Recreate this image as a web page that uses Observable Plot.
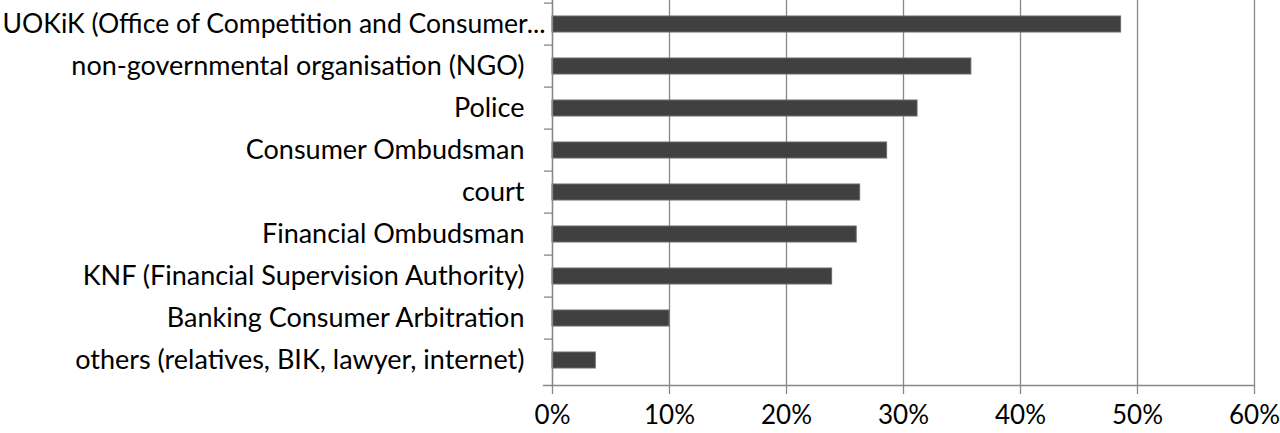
<!DOCTYPE html>
<html>
<head>
<meta charset="utf-8">
<script src="https://cdn.jsdelivr.net/npm/d3@7"></script>
<script src="https://cdn.jsdelivr.net/npm/@observablehq/plot@0.6"></script>
<style>
  html, body { margin: 0; padding: 0; background: #fff; overflow: hidden; }
  #chart svg { display: block; }
</style>
</head>
<body>
<div id="chart"></div>
<script>
const categories = [
  "UOKiK (Office of Competition and Consumer...",
  "non-governmental organisation (NGO)",
  "Police",
  "Consumer Ombudsman",
  "court",
  "Financial Ombudsman",
  "KNF (Financial Supervision Authority)",
  "Banking Consumer Arbitration",
  "others (relatives, BIK, lawyer, internet)"
];
const values = [0.486, 0.358, 0.312, 0.286, 0.263, 0.260, 0.239, 0.100, 0.037];
const xTicks = [0, 0.1, 0.2, 0.3, 0.4, 0.5, 0.6];
const xTickLabels = ["0%", "10%", "20%", "30%", "40%", "50%", "60%"];

const data = categories.map((c, i) => ({category: c, value: values[i]}));

const W = 1280, H = 433, mL = 552, mR = 26, mT = 0, mB = 48;
const step = (H - mT - mB) / categories.length;
const axisGray = "#888888";

const chart = Plot.plot({
  width: W,
  height: H,
  marginLeft: mL,
  marginRight: mR,
  marginTop: mT,
  marginBottom: mB,
  style: {fontFamily: "Lato, 'Open Sans', sans-serif", fontSize: "27px", color: "#000", background: "#fff", overflow: "visible"},
  x: {domain: [0, 0.6], ticks: xTicks, tickFormat: d => xTickLabels[xTicks.indexOf(d)] ?? "", label: null},
  y: {domain: categories, paddingInner: 0.61, paddingOuter: 0.305, label: null},
  marks: [
    Plot.gridX(xTicks, {stroke: axisGray, strokeOpacity: 1, strokeWidth: 1.3}),
    Plot.barX(data, {x: "value", y: "category", fill: "#404040", stroke: "#6a6a6a", strokeWidth: 1}),
    Plot.ruleX([0], {stroke: axisGray, strokeWidth: 1.3}),
    Plot.frame({anchor: "bottom", stroke: axisGray, strokeWidth: 1.3, insetLeft: -9}),
    Plot.axisX(xTicks, {tickSize: 9, tickPadding: 11, stroke: axisGray, strokeWidth: 1.3, fill: "#000", label: null, fontSize: 26,
      tickFormat: d => xTickLabels[xTicks.indexOf(d)]}),
    Plot.axisY({tickSize: 0, tickPadding: 28, fill: "#000", label: null}),
    Plot.axisY({tickSize: 8, text: null, dy: -step / 2, stroke: axisGray, strokeWidth: 1.3, label: null})
  ]
});
document.getElementById("chart").appendChild(chart);

// Excel-style truncated first label: it spans from the left edge up to just left of the axis
function fitFirstLabel() {
  chart.querySelectorAll("text").forEach(t => {
    if (t.textContent === categories[0]) {
      t.setAttribute("dx", "21");
      t.setAttribute("textLength", "543");
      t.setAttribute("lengthAdjust", "spacingAndGlyphs");
    }
  });
}
fitFirstLabel();
if (document.fonts && document.fonts.ready) document.fonts.ready.then(fitFirstLabel);
</script>
</body>
</html>
